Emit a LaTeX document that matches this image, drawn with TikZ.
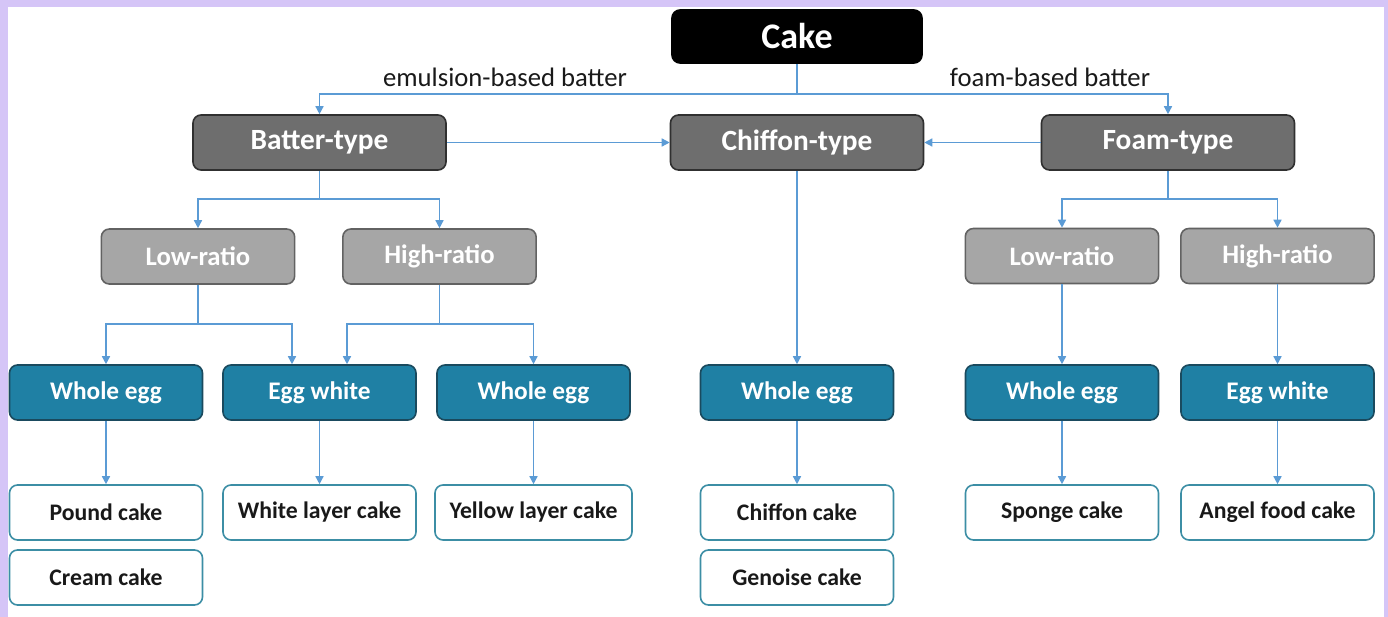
\documentclass[tikz,border=0pt]{standalone}
\usepackage{fontspec}
\setmainfont{Carlito}
\usetikzlibrary{arrows.meta,calc}
\definecolor{lav}{HTML}{D5C5F7}
\definecolor{typefill}{HTML}{6E6E6E}
\definecolor{typeline}{HTML}{303030}
\definecolor{ratiofill}{HTML}{A6A6A6}
\definecolor{ratioline}{HTML}{626262}
\definecolor{eggfill}{HTML}{1F80A4}
\definecolor{eggline}{HTML}{1A4A5E}
\definecolor{cakeline}{HTML}{3C8EA5}
\definecolor{arr}{HTML}{5B9BD5}
\tikzset{
  basebox/.style={rectangle, rounded corners=6pt, line width=1.2pt, align=center, inner sep=0pt},
  topbox/.style={basebox, fill=black, draw=black, text=white, font=\fontsize{27}{32}\selectfont\bfseries, minimum width=187.5pt, minimum height=39.75pt},
  typebox/.style={basebox, fill=typefill, draw=typeline, text=white, font=\fontsize{22}{26}\selectfont\bfseries, minimum width=189.75pt, minimum height=41.25pt},
  ratiobox/.style={basebox, fill=ratiofill, draw=ratioline, text=white, font=\fontsize{20}{24}\selectfont\bfseries, minimum width=145pt, minimum height=41.25pt},
  eggbox/.style={basebox, fill=eggfill, draw=eggline, text=white, font=\fontsize{19}{23}\selectfont\bfseries, minimum width=144.75pt, minimum height=41.25pt},
  cakebox/.style={basebox, fill=white, draw=cakeline, text=black!90, font=\fontsize{17.8}{21}\selectfont\bfseries, minimum width=144.75pt, minimum height=41.25pt},
  conn/.style={draw=arr, line width=1.1pt},
  arrow/.style={conn, -{Triangle[width=6pt,length=6pt]}},
  lbl/.style={font=\fontsize{20}{24}\selectfont, text=black!90, inner sep=0pt}
}
\begin{document}
\begin{tikzpicture}[x=0.75pt,y=-0.75pt]
\useasboundingbox (0,0) rectangle (1388,617);
\fill[lav] (0,0) rectangle (1388,617);
\fill[white] (8,7) rectangle (1384,617);

% nodes
\node[topbox] (cake) at (797,36.5) {Cake};
\node[typebox] (batter) at (319.5,142.5) {Batter-type};
\node[typebox] (chiffon) at (797,142.5) {Chiffon-type};
\node[typebox] (foam) at (1168,142.5) {Foam-type};

\node[ratiobox] (lowL) at (198,256.5) {Low-ratio};
\node[ratiobox] (highL) at (439.5,256.5) {High-ratio};
\node[ratiobox] (lowR) at (1062,256) {Low-ratio};
\node[ratiobox] (highR) at (1277.5,256) {High-ratio};

\node[eggbox] (we1) at (106,392.5) {Whole egg};
\node[eggbox] (ew1) at (319.5,392.5) {Egg white};
\node[eggbox] (we2) at (533.5,392.5) {Whole egg};
\node[eggbox] (we3) at (797,392.5) {Whole egg};
\node[eggbox] (we4) at (1062,392.5) {Whole egg};
\node[eggbox] (ew2) at (1277.5,392.5) {Egg white};

\node[cakebox] (pound) at (106,512.5) {Pound cake};
\node[cakebox] (cream) at (106,577.5) {Cream cake};
\node[cakebox] (white) at (319.5,512.5) {White layer cake};
\node[cakebox, minimum width=147.75pt] (yellow) at (533.5,512.5) {Yellow layer cake};
\node[cakebox] (chcake) at (797,512.5) {Chiffon cake};
\node[cakebox] (genoise) at (797,577.5) {Genoise cake};
\node[cakebox] (sponge) at (1062,512.5) {Sponge cake};
\node[cakebox] (angel) at (1277.5,512.5) {Angel food cake};

% labels
\node[lbl] (emul) at (505,77) {emulsion-based batter};
\node[lbl] (foamlbl) at (1050,77) {foam-based batter};

% connectors
\coordinate (j1) at ($(cake.south)+(0,30)$);
\draw[conn] (cake.south) -- (j1);
\draw[arrow] (j1) -| (batter.north);
\draw[arrow] (j1) -| (foam.north);

\draw[arrow] (batter.east) -- (chiffon.west);
\draw[arrow] (foam.west) -- (chiffon.east);

\coordinate (j2) at ($(batter.south)+(0,28)$);
\draw[conn] (batter.south) -- (j2);
\draw[arrow] (j2) -| (lowL.north);
\draw[arrow] (j2) -| (highL.north);

\draw[arrow] (chiffon.south) -- (we3.north);

\coordinate (j3) at ($(foam.south)+(0,28)$);
\draw[conn] (foam.south) -- (j3);
\draw[arrow] (j3) -| (lowR.north);
\draw[arrow] (j3) -| (highR.north);

\coordinate (j4) at ($(lowL.south)+(0,39)$);
\draw[conn] (lowL.south) -- (j4);
\draw[arrow] (j4) -| (we1.north);
\draw[arrow] (j4) -| ($(ew1.north)+(-27.5,0)$);

\coordinate (j5) at ($(highL.south)+(0,39)$);
\draw[conn] (highL.south) -- (j5);
\draw[arrow] (j5) -| ($(ew1.north)+(27.5,0)$);
\draw[arrow] (j5) -| (we2.north);

\draw[arrow] (lowR.south) -- (we4.north);
\draw[arrow] (highR.south) -- (ew2.north);

\draw[arrow] (we1.south) -- (pound.north);
\draw[arrow] (ew1.south) -- (white.north);
\draw[arrow] (we2.south) -- (yellow.north);
\draw[arrow] (we3.south) -- (chcake.north);
\draw[arrow] (we4.south) -- (sponge.north);
\draw[arrow] (ew2.south) -- (angel.north);
\end{tikzpicture}
\end{document}
